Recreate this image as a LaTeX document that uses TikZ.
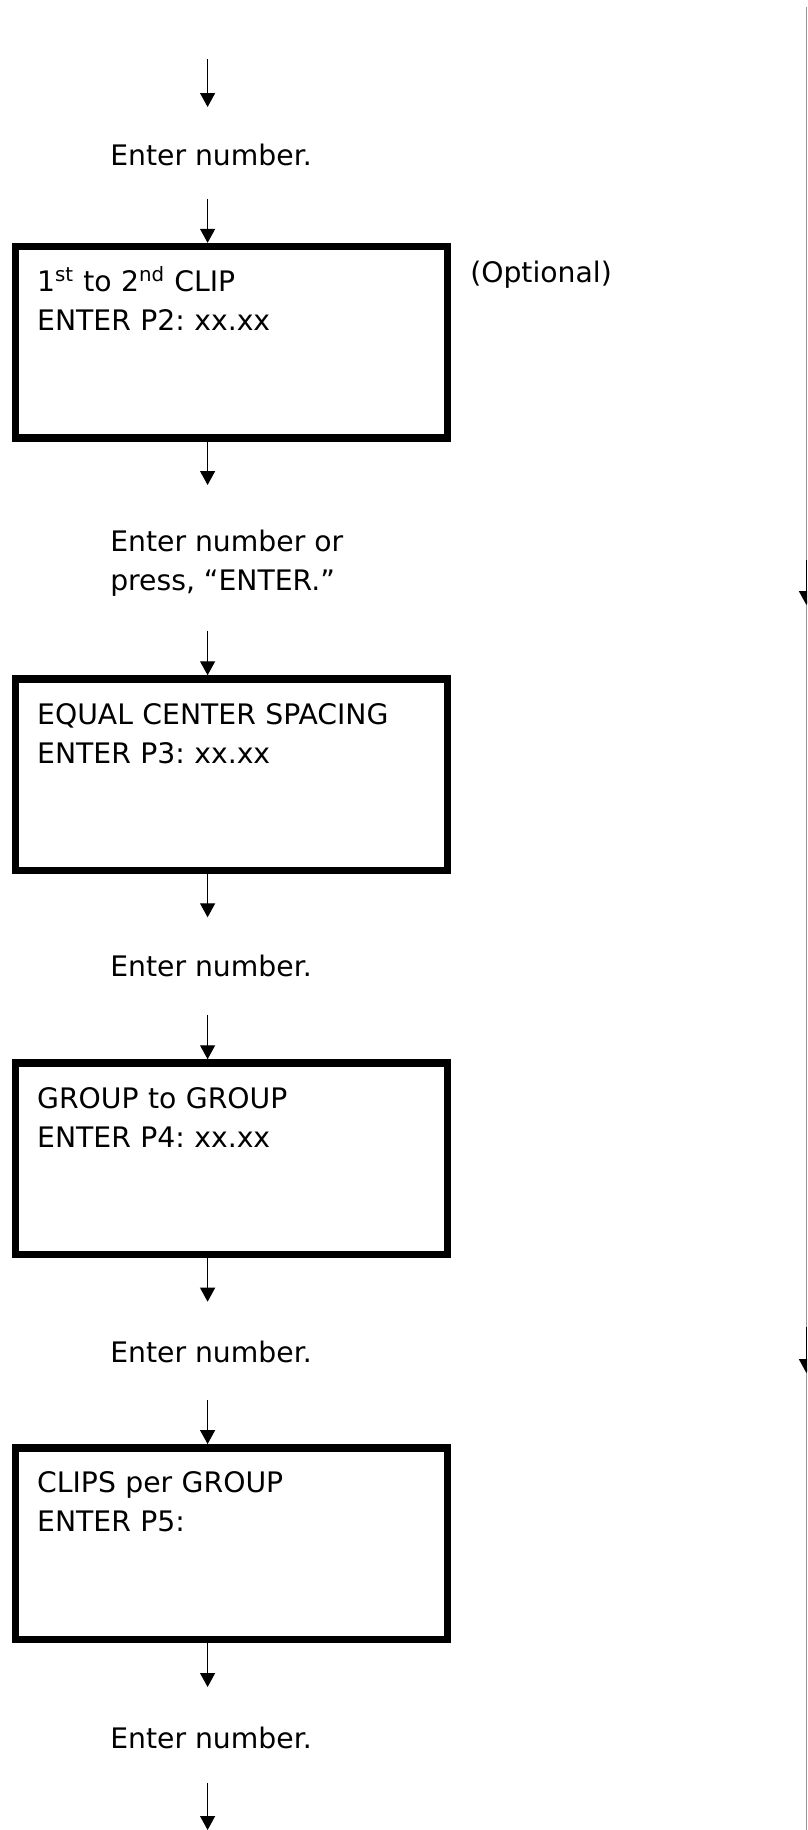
\documentclass[tikz,border=0pt]{standalone}
\usepackage{fontspec}
\setmainfont{DejaVu Sans}
\usetikzlibrary{arrows.meta}
\definecolor{edgegray}{RGB}{150,150,150}
\frenchspacing

\begin{document}
\begin{tikzpicture}[every node/.style={font={\fontsize{20.1}{27.7}\selectfont}},
  screen/.style={draw,line width=0.19cm,align=left,text width=9.72cm,inner xsep=0.54cm,inner ysep=0pt,text height=1.125cm,text depth=3.6625cm},
  note/.style={align=left,inner sep=0pt,anchor=north west},
  flow/.style={-{Triangle[length=0.35cm,width=0.375cm]},line width=0.03cm}]
\useasboundingbox (0,0) rectangle (20.175,-45.75);
\clip (0,0) rectangle (20.175,-45.75);
\coordinate (col) at (5.19,0);
\coordinate (in)  at (5.19,-1.475);
\coordinate (out) at (5.19,-45.75);
\node[note] (n1) at (2.75,-3.593)  {Enter number.};
\node[note] (n2) at (2.75,-13.243) {Enter number or\\press, “ENTER.”};
\node[note] (n3) at (2.75,-23.868) {Enter number.};
\node[note] (n4) at (2.75,-33.51)  {Enter number.};
\node[note] (n5) at (2.75,-43.168) {Enter number.};
\node[screen] (B1) at (5.79,-8.56)  {1\textsuperscript{st} to 2\textsuperscript{nd} CLIP\\ENTER P2: xx.xx};
\node[screen] (B2) at (5.79,-19.37) {EQUAL CENTER SPACING\\ENTER P3: xx.xx};
\node[screen] (B3) at (5.79,-28.97) {GROUP to GROUP\\ENTER P4: xx.xx};
\node[screen] (B4) at (5.79,-38.59) {CLIPS per GROUP\\ENTER P5:};
\node[note,anchor=base west] (opt) at (11.75,-7.05) {(Optional)};
\draw[flow,shorten >=0.918cm] (in) -- (n1.north -| col);
\draw[flow,shorten <=0.825cm] (n1.south -| col) -- (B1.north -| col);
\draw[flow,shorten >=1.118cm] (B1.south -| col) -- (n2.north -| col);
\draw[flow,shorten <=0.855cm] (n2.south -| col) -- (B2.north -| col);
\draw[flow,shorten >=0.935cm] (B2.south -| col) -- (n3.north -| col);
\draw[flow,shorten <=0.95cm] (n3.south -| col) -- (B3.north -| col);
\draw[flow,shorten >=0.968cm] (B3.south -| col) -- (n4.north -| col);
\draw[flow,shorten <=0.933cm] (n4.south -| col) -- (B4.north -| col);
\draw[flow,shorten >=0.993cm] (B4.south -| col) -- (n5.north -| col);
\draw[flow,shorten <=0.85cm] (n5.south -| col) -- (out);
\coordinate (e0) at (20.16,-0.1675);
\coordinate (e1) at (20.16,-45.75);
\draw[edgegray,line width=0.03cm] (e0) -- (e1);
\coordinate (r1)  at (20.16,-14.0);
\coordinate (r1e) at (20.16,-15.125);
\coordinate (r2)  at (20.16,-33.175);
\coordinate (r2e) at (20.16,-34.325);
\draw[flow] (r1) -- (r1e);
\draw[flow] (r2) -- (r2e);
\end{tikzpicture}
\end{document}
